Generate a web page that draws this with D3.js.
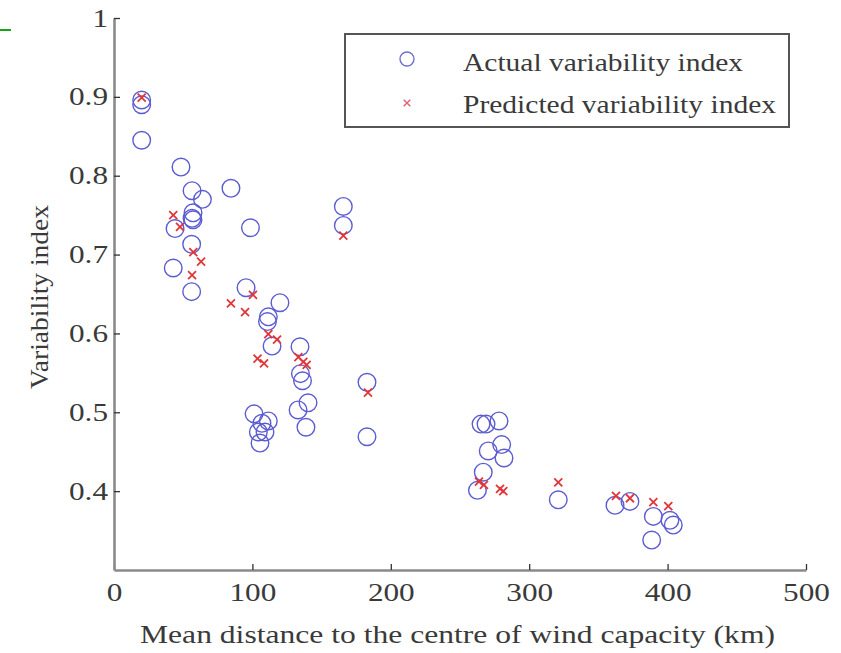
<!DOCTYPE html>
<html>
<head>
<meta charset="utf-8">
<script src="https://cdn.jsdelivr.net/npm/d3@7"></script>
<style>
  html, body { margin: 0; padding: 0; background: #fff; }
  svg { display: block; }
  svg text { font-family: "Liberation Serif", "Times New Roman", Times, serif; font-weight: normal; }
</style>
</head>
<body>
<svg id="chart" width="841" height="653"></svg>
<script>
// ---- Data ----
const actualDist = [20.0, 20.0, 20.0, 48.4, 56.4, 63.9, 84.5, 57.1, 56.4, 57.1, 44.1, 98.6, 56.1, 42.8, 56.1, 95.4, 119.9, 111.5, 110.9, 114.2, 165.7, 165.7, 134.4, 134.7, 136.2, 133.0, 140.2, 138.7, 182.8, 182.8, 101.2, 106.9, 111.5, 104.3, 109.1, 105.5, 265.2, 268.8, 278.2, 270.4, 280.1, 281.8, 266.8, 262.6, 321.0, 362.0, 372.8, 389.7, 401.7, 404.1, 388.5];
const actualVal  = [0.896, 0.890, 0.845, 0.811, 0.781, 0.770, 0.784, 0.753, 0.746, 0.744, 0.733, 0.734, 0.713, 0.683, 0.653, 0.658, 0.639, 0.621, 0.615, 0.584, 0.761, 0.737, 0.583, 0.549, 0.540, 0.503, 0.512, 0.481, 0.538, 0.469, 0.498, 0.486, 0.489, 0.475, 0.475, 0.461, 0.485, 0.485, 0.489, 0.451, 0.459, 0.442, 0.424, 0.401, 0.389, 0.382, 0.387, 0.368, 0.363, 0.357, 0.338];
const predDist   = [20.0, 42.8, 47.7, 57.3, 62.9, 56.4, 165.7, 100.4, 84.5, 94.7, 111.5, 117.8, 103.7, 108.4, 133.2, 136.8, 139.2, 183.5, 263.7, 267.3, 278.9, 281.3, 321.0, 362.7, 372.8, 389.7, 400.5];
const predVal    = [0.899, 0.750, 0.735, 0.703, 0.691, 0.674, 0.724, 0.649, 0.638, 0.627, 0.599, 0.592, 0.568, 0.562, 0.570, 0.564, 0.560, 0.525, 0.412, 0.408, 0.403, 0.400, 0.411, 0.394, 0.391, 0.386, 0.381];

const xTicks = [0, 100, 200, 300, 400, 500];
const yTicks = [0.4, 0.5, 0.6, 0.7, 0.8, 0.9, 1];
const xTitle = "Mean distance to the centre of wind capacity (km)";
const yTitle = "Variability index";
const legendLabels = ["Actual variability index", "Predicted variability index"];

// ---- Setup ----
const svg = d3.select("#chart");
const BLUE = "#5c5cd2";
const RED = "#e0363a";
const TXT = "#3a3a3a";

const x = d3.scaleLinear().domain([0, 500]).range([114, 806]);
const y = d3.scaleLinear().domain([0.3, 1]).range([570, 18]);

// small green artifact at top-left
svg.append("line").attr("x1", 0).attr("x2", 11).attr("y1", 30).attr("y2", 30)
  .attr("stroke", "#1aa31a").attr("stroke-width", 2);

// ---- Axes ----
const SX = 1.25;
const xAxis = d3.axisBottom(x).tickValues(xTicks).tickSizeInner(-6).tickSizeOuter(0).tickPadding(13)
  .tickFormat(d3.format("d"));
const gx = svg.append("g").attr("transform", `translate(0,${y(0.3)})`).call(xAxis);

const yAxis = d3.axisLeft(y).tickValues(yTicks).tickSizeInner(-6).tickSizeOuter(0).tickPadding(6)
  .tickFormat(d => d === 1 ? "1" : d3.format(".1f")(d));
const gy = svg.append("g").attr("transform", `translate(${x(0)},0)`).call(yAxis);

[gx, gy].forEach(g => {
  g.attr("font-family", null).attr("font-size", null);
  g.select(".domain").attr("stroke", "#8a8a8a").attr("stroke-width", 2.6);
  g.selectAll(".tick line").attr("stroke", "#333").attr("stroke-width", 1.3);
  g.selectAll(".tick text")
    .style("font-size", "25px").attr("fill", TXT)
    .attr("transform", `scale(${SX},1)`);
});
gy.selectAll(".tick text").attr("x", -6 / SX);

// ---- Axis titles ----
svg.append("text")
  .attr("x", 140).attr("y", 643)
  .style("font-size", "25px").attr("fill", TXT)
  .attr("textLength", 635).attr("lengthAdjust", "spacingAndGlyphs")
  .text(xTitle);

svg.append("text")
  .attr("transform", "translate(48,297) rotate(-90)")
  .attr("text-anchor", "middle")
  .style("font-size", "25px").attr("fill", TXT)
  .attr("textLength", 184).attr("lengthAdjust", "spacingAndGlyphs")
  .text(yTitle);

// ---- Marks ----
const actual = actualDist.map((d, i) => ({ d, v: actualVal[i] }));
const pred = predDist.map((d, i) => ({ d, v: predVal[i] }));

svg.append("g").selectAll("circle").data(actual).join("circle")
  .attr("cx", p => x(p.d)).attr("cy", p => y(p.v)).attr("r", 8.8)
  .attr("fill", "none").attr("stroke", BLUE).attr("stroke-width", 1.4);

const xPath = s => `M${-s},${-s}L${s},${s}M${-s},${s}L${s},${-s}`;
svg.append("g").selectAll("path").data(pred).join("path")
  .attr("transform", p => `translate(${x(p.d)},${y(p.v)})`)
  .attr("d", xPath(4))
  .attr("fill", "none").attr("stroke", RED).attr("stroke-width", 1.8);

// ---- Legend ----
const lg = svg.append("g");
lg.append("rect").attr("x", 345).attr("y", 34).attr("width", 444).attr("height", 93)
  .attr("fill", "#fff").attr("stroke", "#555").attr("stroke-width", 2);
lg.append("circle").attr("cx", 407).attr("cy", 59).attr("r", 7)
  .attr("fill", "none").attr("stroke", "#7070d0").attr("stroke-width", 1.4);
lg.append("path").attr("transform", "translate(407,103)").attr("d", xPath(3.3))
  .attr("fill", "none").attr("stroke", "#e06070").attr("stroke-width", 1.4);
lg.append("text").attr("x", 463).attr("y", 71)
  .style("font-size", "25px").attr("fill", TXT)
  .attr("textLength", 280).attr("lengthAdjust", "spacingAndGlyphs")
  .text(legendLabels[0]);
lg.append("text").attr("x", 463).attr("y", 113)
  .style("font-size", "25px").attr("fill", TXT)
  .attr("textLength", 313).attr("lengthAdjust", "spacingAndGlyphs")
  .text(legendLabels[1]);
</script>
</body>
</html>
